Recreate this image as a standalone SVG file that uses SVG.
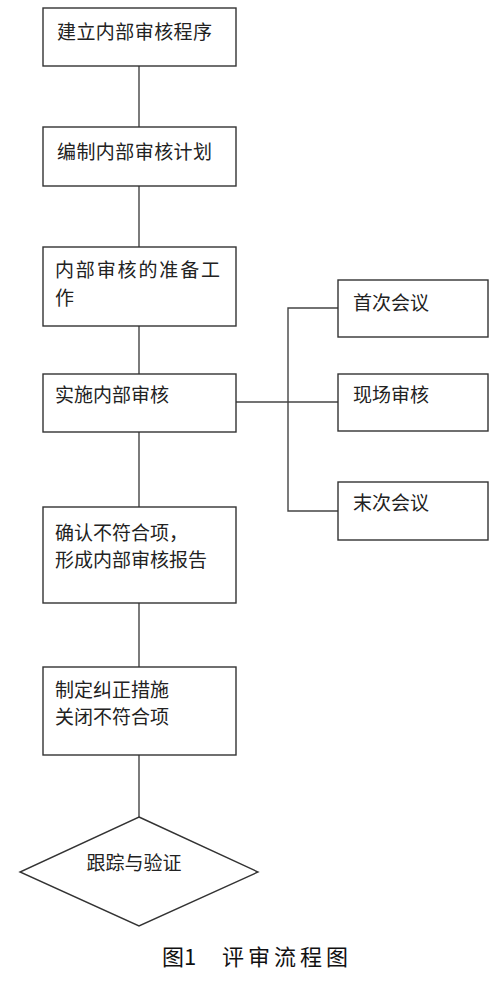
<svg xmlns="http://www.w3.org/2000/svg" width="500" height="985" viewBox="0 0 500 985">
<style>
.box{fill:#fff;stroke:#333;stroke-width:1.4}
.ln{fill:none;stroke:#444;stroke-width:1.4}
.t{font-family:"Noto Sans CJK SC","Noto Sans",sans-serif;font-size:19px;fill:#222}
.cap{font-family:"Noto Sans CJK SC","Liberation Serif",serif;font-size:22px;font-weight:normal;fill:#111}
</style>
<rect width="500" height="985" fill="#fff"/>
<g id="connectors">
<line class="ln" x1="139" y1="66" x2="139" y2="127"/>
<line class="ln" x1="139" y1="186" x2="139" y2="247"/>
<line class="ln" x1="139" y1="326" x2="139" y2="374"/>
<line class="ln" x1="139" y1="432" x2="139" y2="507"/>
<line class="ln" x1="139" y1="603" x2="139" y2="667"/>
<line class="ln" x1="139" y1="755" x2="139" y2="817"/>
<line class="ln" x1="236" y1="402" x2="338" y2="402"/>
<polyline class="ln" points="338,308 288,308 288,511 338,511"/>
</g>
<g id="n1"><rect class="box" x="43" y="8" width="193" height="58"/><text class="t" x="57" y="39" textLength="155">建立内部审核程序</text></g>
<g id="n2"><rect class="box" x="43" y="127" width="193" height="59"/><text class="t" x="57" y="159" textLength="155">编制内部审核计划</text></g>
<g id="n3"><rect class="box" x="43" y="247" width="193" height="79"/><text class="t" x="55" y="277" textLength="165">内部审核的准备工</text><text class="t" x="55" y="305">作</text></g>
<g id="n4"><rect class="box" x="43" y="374" width="193" height="58"/><text class="t" x="55" y="402">实施内部审核</text></g>
<g id="n5"><rect class="box" x="338" y="280" width="150" height="57"/><text class="t" x="353" y="310">首次会议</text></g>
<g id="n6"><rect class="box" x="338" y="374" width="150" height="57"/><text class="t" x="353" y="402">现场审核</text></g>
<g id="n7"><rect class="box" x="338" y="482" width="150" height="58"/><text class="t" x="353" y="510">末次会议</text></g>
<g id="n8"><rect class="box" x="43" y="507" width="193" height="96"/><text class="t" x="55" y="540">确认不符合项，</text><text class="t" x="55" y="567">形成内部审核报告</text></g>
<g id="n9"><rect class="box" x="43" y="667" width="193" height="88"/><text class="t" x="55" y="697">制定纠正措施</text><text class="t" x="55" y="724">关闭不符合项</text></g>
<g id="n10"><polygon class="box" points="139,817 258,872 139,926 20,872"/><text class="t" x="134" y="870" text-anchor="middle">跟踪与验证</text></g>
<text class="cap" x="162" y="965">图1</text>
<text class="cap" x="222" y="965" textLength="126">评审流程图</text>
</svg>
